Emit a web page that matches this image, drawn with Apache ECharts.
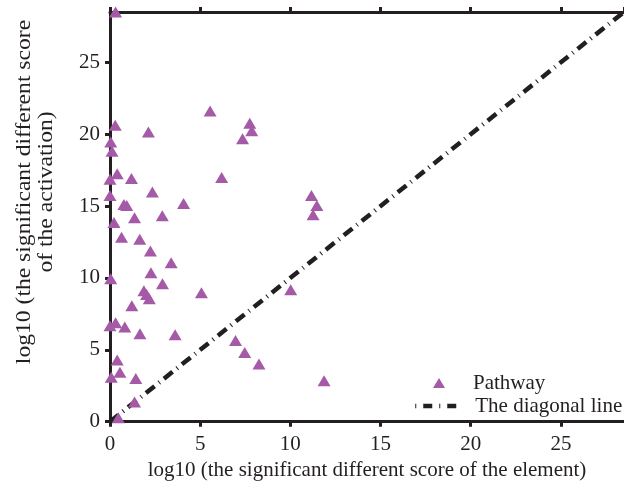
<!DOCTYPE html>
<html>
<head>
<meta charset="utf-8">
<script src="https://cdn.jsdelivr.net/npm/echarts@6/dist/echarts.min.js"></script>
<style>
html,body{margin:0;padding:0;background:#fff;}
#main{width:624px;height:491px;}
</style>
</head>
<body>
<div id="main"></div>
<script>
// Data
var pathwayX = [0.31, 5.55, 7.75, 7.86, 7.35, 0.29, 2.13, 0.04, 0.11, 6.19, 0.40, 1.19, 0.00, 2.35, 0.00, 11.17, 11.47, 11.26, 4.08, 0.77, 0.93, 1.36, 2.90, 0.22, 0.64, 1.65, 2.24, 3.39, 2.27, 0.04, 2.91, 1.88, 2.03, 2.18, 5.07, 10.02, 1.21, 0.31, 0.00, 0.82, 1.66, 3.61, 6.96, 7.47, 8.26, 0.40, 0.55, 0.07, 1.43, 11.87, 1.36, 0.46];
var pathwayY = [28.5, 21.62, 20.76, 20.24, 19.69, 20.62, 20.15, 19.46, 18.81, 16.99, 17.24, 16.92, 16.86, 15.97, 15.74, 15.74, 15.04, 14.39, 15.17, 15.11, 15.04, 14.18, 14.32, 13.86, 12.83, 12.69, 11.88, 11.05, 10.37, 9.95, 9.60, 9.11, 8.84, 8.56, 8.97, 9.18, 8.07, 6.88, 6.67, 6.58, 6.12, 6.05, 5.65, 4.81, 4.02, 4.30, 3.44, 3.10, 3.00, 2.84, 1.37, 0.28];
var diagonalX = [0, 28.5];
var diagonalY = [0, 28.5];
var xTicks = [0, 5, 10, 15, 20, 25];
var yTicks = [0, 5, 10, 15, 20, 25];
var xTitle = 'log10 (the significant different score of the element)';
var yTitle = ['log10 (the significant different score', 'of the activation)'];
var seriesNames = ['Pathway', 'The diagonal line'];

var ink = '#231f20';
var purple = '#a55aa8';
var fontFam = '"Liberation Serif", "Times New Roman", serif';

var chart = echarts.init(document.getElementById('main'), null, {renderer: 'canvas'});

function zip(a, b) { return a.map(function (v, i) { return [v, b[i]]; }); }

var axisCommon = {
  type: 'value', min: 0, max: 28.5, interval: 5,
  splitLine: {show: false},
  axisLine: {show: true, lineStyle: {color: ink, width: 3}},
  axisTick: {show: true, length: 5, lineStyle: {color: ink, width: 3}},
  axisLabel: {color: ink, fontFamily: fontFam, fontSize: 21, margin: 12,
    showMaxLabel: false,
    formatter: function (v) { return xTicks.indexOf(v) >= 0 ? String(v) : ''; }}
};

var legendText = {color: ink, fontFamily: fontFam, fontSize: 21, lineHeight: 21};

var option = {
  animation: false,
  backgroundColor: '#fff',
  grid: {left: 110, top: 12, width: 519, height: 409.7, containLabel: false},
  xAxis: [
    Object.assign({}, axisCommon, {
      position: 'bottom',
      name: xTitle, nameLocation: 'middle', nameGap: 36,
      nameTextStyle: {color: ink, fontFamily: fontFam, fontSize: 21}
    }),
    Object.assign({}, axisCommon, {
      position: 'top',
      axisLabel: {show: false}
    })
  ],
  yAxis: Object.assign({}, axisCommon, {
    axisLabel: {color: ink, fontFamily: fontFam, fontSize: 21, margin: 10,
      showMaxLabel: false,
      formatter: function (v) { return yTicks.indexOf(v) >= 0 ? String(v) : ''; }}
  }),
  legend: [
    {
      orient: 'vertical', left: 433, top: 372.5, padding: 0,
      itemWidth: 12, itemHeight: 10,
      textStyle: Object.assign({padding: [0, 0, 0, 23]}, legendText),
      data: [{name: seriesNames[0]}]
    },
    {
      orient: 'vertical', left: 413, top: 395.5, padding: 0,
      itemWidth: 48, itemHeight: 10,
      textStyle: Object.assign({padding: [0, 0, 0, 7]}, legendText),
      data: [{
        name: seriesNames[1],
        itemStyle: {opacity: 0},
        lineStyle: {color: ink, width: 4.5, type: [1, 7, 9, 7], cap: 'butt'}
      }]
    }
  ],
  graphic: [{
    type: 'text',
    x: 36, y: 192,
    rotation: Math.PI / 2,
    scaleX: 1.18,
    style: {
      text: yTitle.join('\n'),
      fill: ink,
      font: '20px ' + fontFam,
      align: 'center',
      verticalAlign: 'middle',
      lineHeight: 22
    }
  }],
  series: [
    {
      name: seriesNames[1],
      type: 'line',
      xAxisIndex: 0,
      data: zip(diagonalX, diagonalY),
      symbol: 'none',
      z: 1,
      itemStyle: {color: ink},
      lineStyle: {color: ink, width: 4.5, type: [11, 5.5, 1, 5.5], cap: 'butt'}
    },
    {
      name: seriesNames[0],
      type: 'scatter',
      xAxisIndex: 0,
      data: zip(pathwayX, pathwayY),
      symbol: 'triangle',
      symbolSize: [13, 11],
      z: 3,
      itemStyle: {color: purple, opacity: 1}
    }
  ]
};
chart.setOption(option);
</script>
</body>
</html>
